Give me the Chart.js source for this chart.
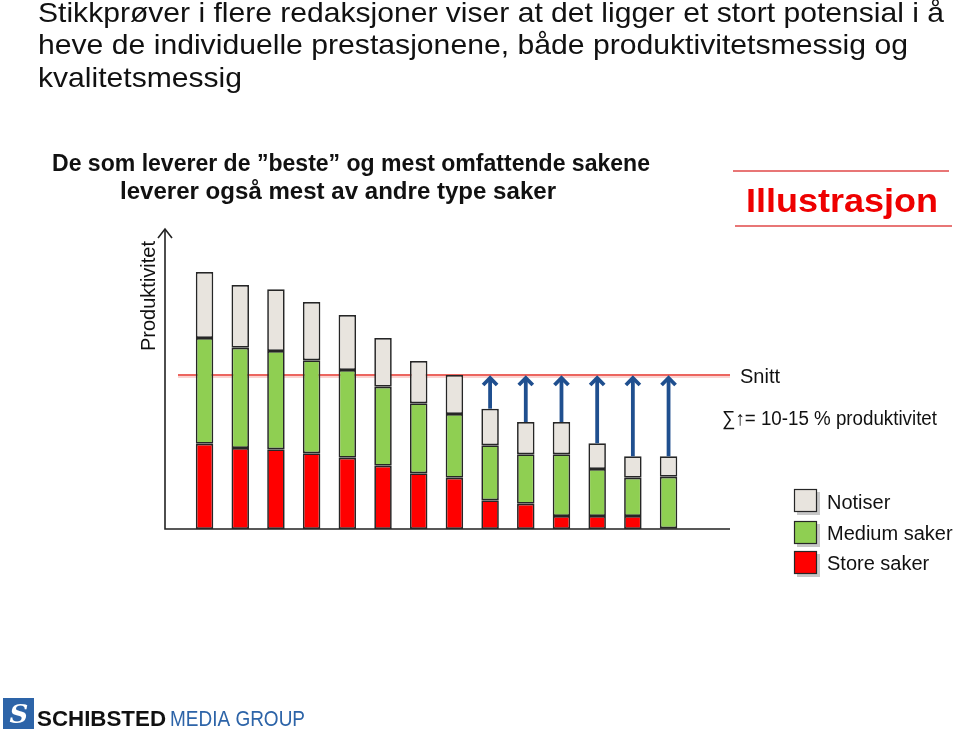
<!DOCTYPE html>
<html><head><meta charset="utf-8">
<script src="https://cdn.jsdelivr.net/npm/chart.js@4/dist/chart.umd.min.js"></script>
<style>html,body{margin:0;padding:0;background:#fff;}canvas{display:block;}</style>
</head><body>
<canvas id="c" width="960" height="734"></canvas>
<script>
const categories = ['1','2','3','4','5','6','7','8','9','10','11','12','13','14'];
const storeSaker  = [85.3, 81, 79.7, 75.7, 71.3, 63.3, 55.7, 51.3, 28.7, 25.3, 13, 13, 13, 0.7];
const mediumSaker = [105.7, 100.3, 98.3, 93, 87.7, 79, 70, 63.7, 55, 49.4, 61.7, 47, 38.3, 51.6];
const notiser     = [66, 62.7, 61.7, 58.3, 55, 48.7, 42.3, 39, 36.6, 32.3, 32.3, 25.7, 21.4, 20.4];
const snitt = 154;
const arrowBars = [8, 9, 10, 11, 12, 13];
const yMax = 301;

const titleLines = ['Stikkprøver i flere redaksjoner viser at det ligger et stort potensial i å',
  'heve de individuelle prestasjonene, både produktivitetsmessig og',
  'kvalitetsmessig'];
const subtitleLines = ['De som leverer de ”beste” og mest omfattende sakene',
  'leverer også mest av andre type saker'];
const legendLabels = ['Notiser', 'Medium saker', 'Store saker'];

const RED = '#ff0000', GREEN = '#8fcf52', GREY = '#e8e4de', BORDER = '#262626', BLUE = '#1f4f8f';

function fitText(ctx, text, left, baseline, width) {
  const w = ctx.measureText(text).width;
  ctx.save();
  ctx.translate(left, baseline);
  ctx.scale(width / w, 1);
  ctx.textAlign = 'left';
  ctx.fillText(text, 0, 0);
  ctx.restore();
}

const deco = {
  id: 'deco',
  beforeDatasetsDraw(chart) {
    const ctx = chart.ctx, y = chart.scales.y;
    const base = y.getPixelForValue(0), top = y.getPixelForValue(yMax);
    ctx.save();
    ctx.strokeStyle = '#222'; ctx.lineWidth = 1.6;
    ctx.beginPath();
    ctx.moveTo(165, top + 2); ctx.lineTo(165, base);
    ctx.lineTo(730, base);
    ctx.stroke();
    ctx.beginPath();
    ctx.moveTo(158, top + 10); ctx.lineTo(165, top + 1); ctx.lineTo(172, top + 10);
    ctx.stroke();
    const sy = y.getPixelForValue(snitt);
    ctx.strokeStyle = 'rgba(230,60,50,0.22)'; ctx.lineWidth = 4;
    ctx.beginPath(); ctx.moveTo(178, sy + 1); ctx.lineTo(730, sy + 1); ctx.stroke();
    ctx.strokeStyle = '#e8403a'; ctx.lineWidth = 1.5;
    ctx.beginPath(); ctx.moveTo(178, sy); ctx.lineTo(730, sy); ctx.stroke();
    ctx.restore();
  },
  afterDatasetsDraw(chart) {
    const ctx = chart.ctx, x = chart.scales.x, y = chart.scales.y;
    const sy = y.getPixelForValue(snitt);
    ctx.save();
    ctx.strokeStyle = BLUE; ctx.lineWidth = 3.8; ctx.lineCap = 'butt'; ctx.lineJoin = 'miter';
    arrowBars.forEach(i => {
      const total = storeSaker[i] + mediumSaker[i] + notiser[i];
      const px = x.getPixelForValue(i);
      const py = y.getPixelForValue(total);
      ctx.beginPath(); ctx.moveTo(px, py); ctx.lineTo(px, sy + 3); ctx.stroke();
      ctx.beginPath();
      ctx.moveTo(px - 7, sy + 10); ctx.lineTo(px, sy + 3); ctx.lineTo(px + 7, sy + 10);
      ctx.stroke();
    });
    ctx.fillStyle = '#111';
    ctx.textBaseline = 'alphabetic';
    ctx.font = '28px "Liberation Sans", Arial, sans-serif';
    const tw = [906, 870, 204];
    const tb = [21.7, 54, 86.5];
    titleLines.forEach((t, i) => fitText(ctx, t, 38, tb[i], tw[i]));
    ctx.font = 'bold 23px "Liberation Sans", Arial, sans-serif';
    fitText(ctx, subtitleLines[0], 52, 171, 598);
    fitText(ctx, subtitleLines[1], 120, 198.5, 436);
    ctx.strokeStyle = '#e04848'; ctx.lineWidth = 1.5;
    ctx.beginPath(); ctx.moveTo(733, 171); ctx.lineTo(949, 171); ctx.stroke();
    ctx.beginPath(); ctx.moveTo(735, 226); ctx.lineTo(952, 226); ctx.stroke();
    ctx.fillStyle = '#ee0000';
    ctx.font = 'bold 34px "Liberation Sans", Arial, sans-serif';
    fitText(ctx, 'Illustrasjon', 746, 212, 192);
    ctx.fillStyle = '#111';
    ctx.save();
    ctx.translate(155, 296); ctx.rotate(-Math.PI / 2);
    ctx.font = '20px "Liberation Sans", Arial, sans-serif';
    ctx.textAlign = 'center';
    ctx.fillText('Produktivitet', 0, 0, 112);
    ctx.restore();
    ctx.textAlign = 'left';
    ctx.font = '20px "Liberation Sans", Arial, sans-serif';
    ctx.fillText('Snitt', 740, 383);
    fitText(ctx, '∑↑= 10-15 % produktivitet', 722, 425, 215);
    const cols = [GREY, GREEN, RED];
    const ys = [489, 521, 551];
    const tys = [509, 540, 570];
    legendLabels.forEach((l, i) => {
      ctx.fillStyle = 'rgba(0,0,0,0.22)';
      ctx.fillRect(797, ys[i] + 3, 23, 23);
      ctx.fillStyle = cols[i];
      ctx.fillRect(794, ys[i], 23, 23);
      ctx.strokeStyle = BORDER; ctx.lineWidth = 1.2;
      ctx.strokeRect(794.5, ys[i] + 0.5, 22, 22);
      ctx.fillStyle = '#111';
      ctx.fillText(l, 827, tys[i]);
    });
    ctx.fillStyle = '#2d64a8';
    ctx.fillRect(3, 698, 31, 31);
    ctx.fillStyle = '#fff';
    ctx.font = 'italic bold 26px "DejaVu Serif", serif';
    ctx.textAlign = 'center';
    ctx.fillText('S', 19, 723);
    ctx.textAlign = 'left';
    ctx.fillStyle = '#111';
    ctx.font = 'bold 22px "Liberation Sans", Arial, sans-serif';
    fitText(ctx, 'SCHIBSTED', 37, 726, 129);
    ctx.fillStyle = '#2d64a8';
    ctx.font = '22px "Liberation Sans", Arial, sans-serif';
    fitText(ctx, 'MEDIA GROUP', 170, 726, 135);
    ctx.restore();
  }
};

const common = { borderColor: BORDER, borderWidth: 1.7, borderSkipped: false,
  categoryPercentage: 1, barPercentage: 0.49 };

new Chart(document.getElementById('c'), {
  type: 'bar',
  data: {
    labels: categories,
    datasets: [
      Object.assign({ label: 'Store saker', data: storeSaker, backgroundColor: RED }, common),
      Object.assign({ label: 'Medium saker', data: mediumSaker, backgroundColor: GREEN }, common),
      Object.assign({ label: 'Notiser', data: notiser, backgroundColor: GREY }, common)
    ]
  },
  options: {
    responsive: false, animation: false, devicePixelRatio: 1,
    layout: { padding: { left: 186.7, right: 273.6, top: 228, bottom: 205 } },
    plugins: { legend: { display: false }, tooltip: { enabled: false } },
    scales: {
      x: { stacked: true, display: false },
      y: { stacked: true, display: false, min: 0, max: yMax }
    }
  },
  plugins: [deco]
});
</script>
</body></html>
